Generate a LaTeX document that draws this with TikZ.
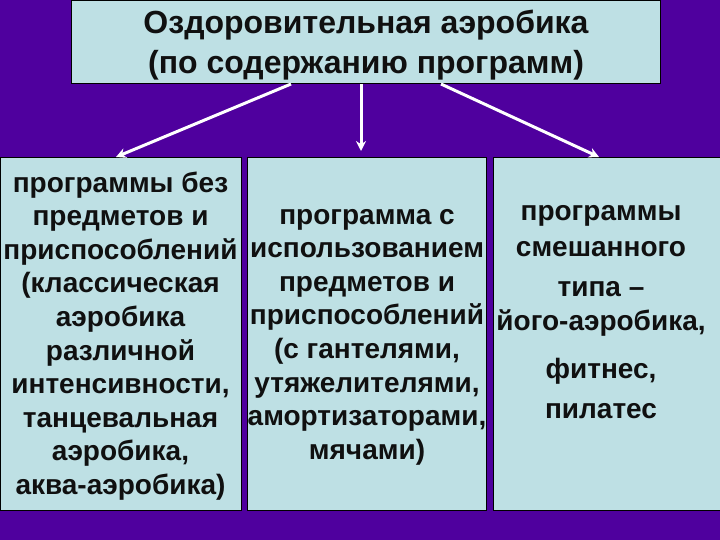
\documentclass[tikz,border=0pt]{standalone}
\usepackage{fontspec}
\setmainfont{Liberation Sans}
\usepackage{tikz}
\usetikzlibrary{arrows.meta,positioning,calc}
\definecolor{bgPurple}{HTML}{4F009E}
\definecolor{lCyan}{HTML}{BEE0E4}
\definecolor{inkK}{HTML}{101010}

\begin{document}
\begin{tikzpicture}[x=1pt, y=-1pt,
    box/.style={draw=black, line width=1pt, fill=lCyan,
                anchor=north west, inner sep=0pt, minimum height=353pt},
    boxtext/.style={align=center, text=inkK,
                font=\fontsize{28}{33.6}\selectfont\bfseries},
    link/.style={draw=white, line width=3pt,
                -{Stealth[length=10pt,width=10pt]}}]
  \fill[bgPurple] (0,0) rectangle (720,540);
  \useasboundingbox (0,0) rectangle (720,540);

  % boxes
  \node[box, minimum width=589pt, minimum height=83pt] (head) at (71,0) {};
  \node[box, minimum width=241pt] (plain) at (0,157) {};
  \node[box, minimum width=239pt] (kit) at (247,157) {};
  \node[box, minimum width=227pt] (mixed) at (493,157) {};

  % texts
  \node[boxtext, font=\fontsize{32}{40}\selectfont\bfseries] (headtext)
    at ([yshift=-3pt]head.center) {Оздоровительная аэробика\\(по содержанию программ)};
  \node[boxtext] (plaintext) at ([xshift=-0.5pt,yshift=-2pt]plain.center) {программы без\\предметов и\\приспособлений\\(классическая\\аэробика\\различной\\интенсивности,\\танцевальная\\аэробика,\\аква-аэробика)};
  \node[boxtext] (kittext) at ([yshift=-3pt]kit.center) {программа с\\использованием\\предметов и\\приспособлений\\(с гантелями,\\утяжелителями,\\амортизаторами,\\мячами)};
  \node[boxtext] (mixedtext) at ([xshift=-6pt,yshift=22pt]mixed.center) {программы\\[2.4pt]смешанного\\[6.4pt]типа –\\його-аэробика,\\[14.4pt]фитнес,\\[6.4pt]пилатес};

  % links
  \draw[link] ([xshift=-75pt]head.south) -- ([xshift=-5pt]plain.north);
  \draw[link] ([xshift=-5pt]head.south) -- ([xshift=-6pt,yshift=6pt]kit.north);
  \draw[link] ([xshift=75pt]head.south) -- ([xshift=-8pt]mixed.north);
\end{tikzpicture}
\end{document}
